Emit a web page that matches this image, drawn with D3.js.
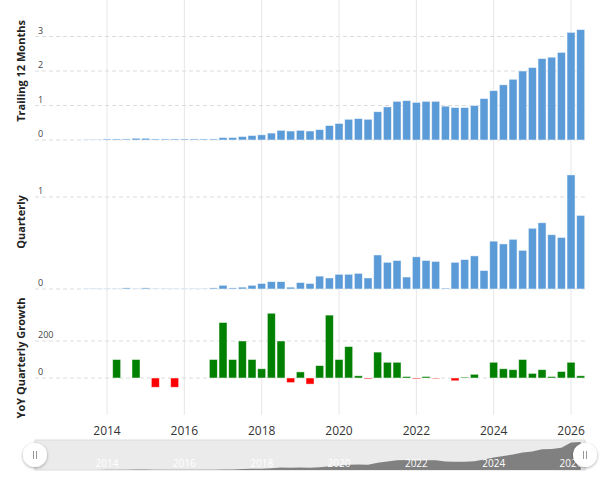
<!DOCTYPE html><html><head><meta charset="utf-8">
<script src="https://cdn.jsdelivr.net/npm/d3@7"></script>
<style>body{margin:0;background:#fff;font-family:"Open Sans",sans-serif}</style></head><body>
<svg id="c" width="600" height="481"></svg>
<script>
const startYear = 2013.5;
const ttm = [0.01,0.01,0.03,0.03,0.03,0.05,0.05,0.03,0.03,0.03,0.03,0.03,0.03,0.03,0.07,0.07,0.1,0.13,0.15,
 0.2,0.28,0.26,0.28,0.26,0.3,0.42,0.48,0.6,0.62,0.6,0.82,0.96,1.12,1.14,1.09,1.12,1.12,0.98,0.94,0.94,1.0,1.2,1.43,
 1.6,1.76,2.0,2.1,2.36,2.4,2.54,3.12,3.2];
const quarterly = [0.005,0.005,0.005,0.005,0.012,0.005,0.012,0.005,0.005,0.005,0.005,0.005,0.005,0.012,0.04,0.012,0.02,0.04,0.06,
 0.08,0.08,0.02,0.07,0.06,0.14,0.12,0.16,0.16,0.17,0.12,0.37,0.29,0.31,0.13,0.35,0.31,0.3,0.01,0.29,0.32,0.36,0.2,0.52,
 0.49,0.54,0.42,0.66,0.72,0.59,0.56,1.24,0.8];
const yoy = [null,null,null,100,null,100,null,-50,null,-50,null,null,null,100,300,100,200,100,50,
 350,200,-25,33,-33,67,340,100,170,12,-5,140,85,85,8,-5,8,-3,null,-15,5,20,null,85,
 50,45,100,25,45,8,35,85,12];
const yearTicks = [2014,2016,2018,2020,2022,2024,2026];
const ttmTicks = [0,1,2,3], qTicks=[0,1], yoyTicks=[0,200];

const svg = d3.select("#c");
const x = d3.scaleLinear().domain([2013.0,2026.5]).range([35,585]);
// calibrate: 2014 -> 107, 2026 -> 571
x.domain([2014-(107-35)/38.67, 2014+(585-107)/38.67]);
const dates = ttm.map((d,i)=>startYear+i*0.25);
const bw = 8;

// vertical grid
svg.append("g").selectAll("line").data(yearTicks).join("line")
 .attr("x1",d=>x(d)).attr("x2",d=>x(d)).attr("y1",0).attr("y2",415)
 .attr("stroke","#e6e6e6");

function panel(vals, y, ticks, title, colorFn, titleY){
  const g = svg.append("g");
  g.selectAll("line.h").data(ticks).join("line")
   .attr("x1",35).attr("x2",585).attr("y1",d=>y(d)).attr("y2",d=>y(d))
   .attr("stroke","#dcdcdc").attr("stroke-dasharray","4,3");
  g.selectAll("text.t").data(ticks).join("text")
   .attr("x",38).attr("y",d=>y(d)-3).attr("font-size",9).attr("fill","#444").text(d=>d);
  g.selectAll("rect").data(vals.map((v,i)=>({v,d:dates[i]})).filter(o=>o.v!==null)).join("rect")
   .attr("x",o=>x(o.d)-bw/2).attr("width",bw)
   .attr("y",o=>y(Math.max(0,o.v))).attr("height",o=>Math.abs(y(o.v)-y(0)))
   .attr("fill",o=>colorFn(o.v)).attr("stroke","#fff").attr("stroke-opacity",0.6).attr("stroke-width",0.8);
  svg.append("text").attr("transform",`translate(25,${titleY}) rotate(-90)`)
   .attr("text-anchor","middle").attr("font-size",11).attr("font-weight","bold").attr("fill","#222").text(title);
}
const yT = d3.scaleLinear().domain([0,4]).range([140,2]);
const yQ = d3.scaleLinear().domain([0,1]).range([289,197]);
const yY = d3.scaleLinear().domain([-200,200]).range([415,341]);
panel(ttm,yT,ttmTicks,"Trailing 12 Months",()=>"#5b9bd8",71);
panel(quarterly,yQ,qTicks,"Quarterly",()=>"#5b9bd8",222);
panel(yoy,yY,yoyTicks,"YoY Quarterly Growth",v=>v>=0?"#008000":"#ff0000",358);

// x axis labels
svg.append("g").selectAll("text").data(yearTicks).join("text")
 .attr("x",d=>x(d)).attr("y",435).attr("text-anchor","middle").attr("font-size",12).attr("fill","#333").text(d=>d);

// navigator
svg.append("rect").attr("x",35).attr("y",440).attr("width",550).attr("height",30).attr("fill","#ebebeb").attr("stroke","#ddd");
const yN = d3.scaleLinear().domain([0,3.3]).range([470,441]);
svg.append("path").datum(ttm.map((v,i)=>[dates[i],v]))
 .attr("d",d3.area().x(d=>x(d[0])).y0(470).y1(d=>yN(d[1])))
 .attr("fill","#808080");
svg.append("g").selectAll("text").data(yearTicks).join("text")
 .attr("x",d=>x(d)).attr("y",467).attr("text-anchor","middle").attr("font-size",10).attr("fill","#fff").text(d=>d);
const defs=svg.append("defs");
const f=defs.append("filter").attr("id","sh").attr("x","-50%").attr("y","-50%").attr("width","200%").attr("height","200%");
f.append("feDropShadow").attr("dx",0).attr("dy",1).attr("stdDeviation",1.5).attr("flood-opacity",0.35);
[35,585].forEach(cx=>{
  svg.append("circle").attr("cx",cx).attr("cy",455).attr("r",12).attr("fill","#fff").attr("filter","url(#sh)");
  [-1.5,1.5].forEach(dx=>svg.append("line").attr("x1",cx+dx).attr("x2",cx+dx).attr("y1",451).attr("y2",459).attr("stroke","#999"));
});
</script></body></html>
